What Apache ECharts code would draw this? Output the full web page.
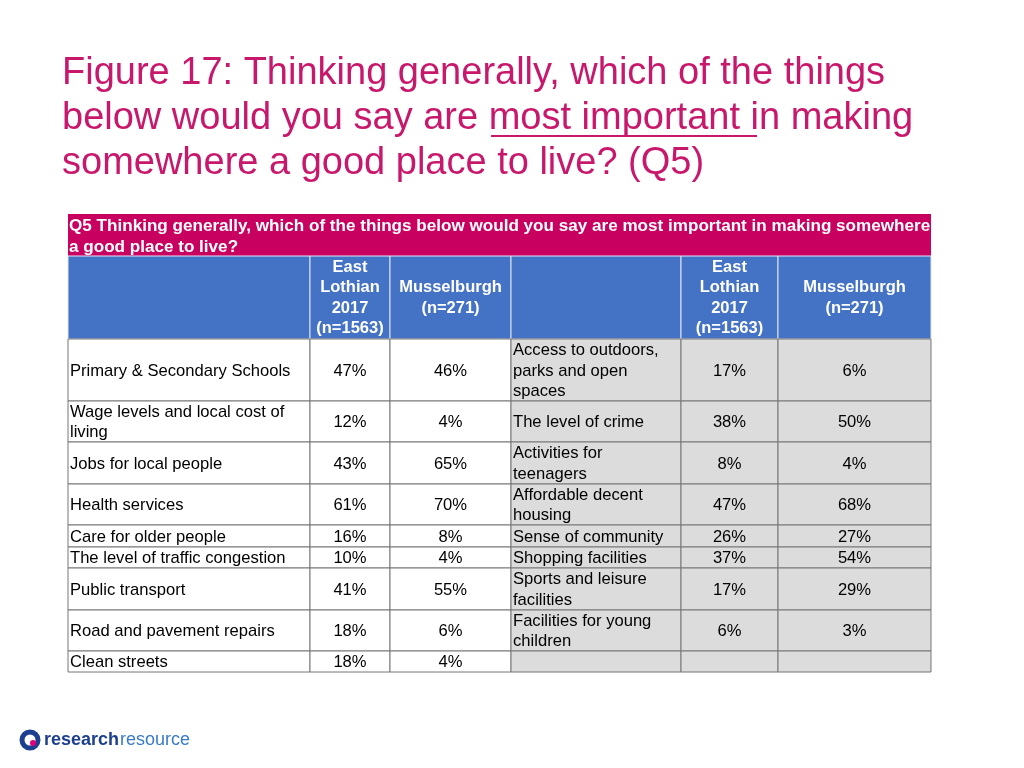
<!DOCTYPE html>
<html><head><meta charset="utf-8">
<script src="https://cdn.jsdelivr.net/npm/echarts@6/dist/echarts.min.js"></script>
<style>html,body{margin:0;background:#fff}#c{width:1024px;height:768px}</style>
</head><body><div id="c"></div>
<script>
const titleLines = ["Figure 17: Thinking generally, which of the things", "below would you say are most important in making", "somewhere a good place to live? (Q5)"];
const question = "Q5 Thinking generally, which of the things below would you say are most important in making somewhere\na good place to live?";
const colHeaders = ["", "East\nLothian\n2017\n(n=1563)", "Musselburgh\n(n=271)", "", "East\nLothian\n2017\n(n=1563)", "Musselburgh\n(n=271)"];
const leftItems = ["Primary & Secondary Schools", "Wage levels and local cost of\nliving", "Jobs for local people", "Health services", "Care for older people", "The level of traffic congestion", "Public transport", "Road and pavement repairs", "Clean streets"];
const leftEL = ["47%", "12%", "43%", "61%", "16%", "10%", "41%", "18%", "18%"];
const leftMus = ["46%", "4%", "65%", "70%", "8%", "4%", "55%", "6%", "4%"];
const rightItems = ["Access to outdoors,\nparks and open\nspaces", "The level of crime", "Activities for\nteenagers", "Affordable decent\nhousing", "Sense of community", "Shopping facilities", "Sports and leisure\nfacilities", "Facilities for young\nchildren", ""];
const rightEL = ["17%", "38%", "8%", "47%", "26%", "37%", "17%", "6%", ""];
const rightMus = ["6%", "50%", "4%", "68%", "27%", "54%", "29%", "3%", ""];

const colX = [68, 310, 390, 511, 681, 778, 931];
const rowY = [339, 401, 442, 484, 525, 547, 568, 610, 651, 672];
const F = 'Liberation Sans, Arial, sans-serif';
const els = [];
titleLines.forEach((t, i) => els.push({type:'text', left:62, top:55+i*45, style:{text:t, fill:'#c8186c', font:'38px '+F}}));
els.push({type:'line', shape:{x1:491,y1:136,x2:757,y2:136}, style:{stroke:'#c8186c', lineWidth:2}});
els.push({type:'rect', shape:{x:68,y:214,width:863,height:42}, style:{fill:'#c8005f'}});
els.push({type:'text', left:69, top:216, style:{text:question, fill:'#fff', font:'bold 17.1px '+F, lineHeight:21}});
for (let c=0;c<6;c++){
  els.push({type:'rect', shape:{x:colX[c],y:256,width:colX[c+1]-colX[c],height:83}, style:{fill:'#4472c4', stroke:'#dfe6f5', lineWidth:1}});
  els.push({type:'text', x:(colX[c]+colX[c+1])/2, y:298, style:{text:colHeaders[c], fill:'#fff', font:'bold 16.5px '+F, lineHeight:20.5, align:'center', verticalAlign:'middle'}});
}
const cols = [leftItems, leftEL, leftMus, rightItems, rightEL, rightMus];
for (let r=0;r<leftItems.length;r++){
  const y0=rowY[r], h=rowY[r+1]-rowY[r], ym=y0+h/2;
  for (let c=0;c<6;c++){
    els.push({type:'rect', shape:{x:colX[c],y:y0,width:colX[c+1]-colX[c],height:h}, style:{fill:c>=3?'#dcdcdc':'#fff', stroke:'#777', lineWidth:1}});
    const lab = c===0||c===3;
    els.push({type:'text', x:lab?colX[c]+2:(colX[c]+colX[c+1])/2, y:ym+1, style:{text:cols[c][r], fill:'#000', font:'16.6px '+F, lineHeight:20.5, align:lab?'left':'center', verticalAlign:'middle'}});
  }
}
els.push({type:'text', left:44, top:731, style:{text:'research', fill:'#1d3f8f', font:'bold 18px '+F}});
els.push({type:'text', left:120, top:731, style:{text:'resource', fill:'#3a7bc8', font:'18px '+F}});
els.push({type:'circle', shape:{cx:30,cy:740,r:8}, style:{fill:'none', stroke:'#1d3f8f', lineWidth:5}});
els.push({type:'circle', shape:{cx:33,cy:743,r:3}, style:{fill:'#e0007a'}});
const chart = echarts.init(document.getElementById('c'));
chart.setOption({animation:false, graphic:{elements:els}});
</script></body></html>
